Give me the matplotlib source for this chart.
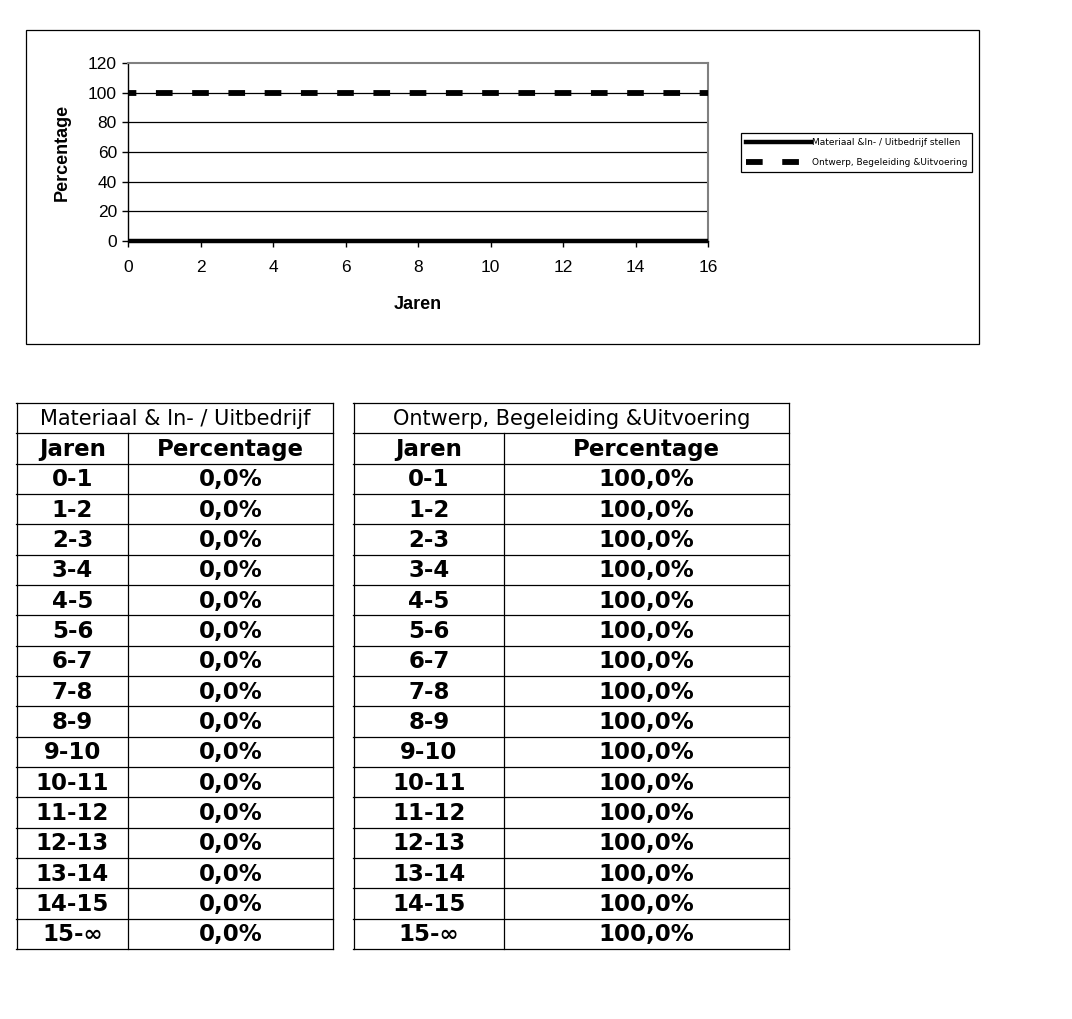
import matplotlib
matplotlib.use("Agg")
import matplotlib.pyplot as plt
from matplotlib.lines import Line2D

plt.rcParams['lines.scale_dashes'] = False

# ---- data ----
years = [0, 1, 2, 3, 4, 5, 6, 7, 8, 9, 10, 11, 12, 13, 14, 15, 16]
materiaal = [0, 0, 0, 0, 0, 0, 0, 0, 0, 0, 0, 0, 0, 0, 0, 0, 0]
ontwerp = [100, 100, 100, 100, 100, 100, 100, 100, 100, 100, 100, 100, 100, 100, 100, 100, 100]
series_names = ["Materiaal &In- / Uitbedrijf stellen", "Ontwerp, Begeleiding &Uitvoering"]
xticks = [0, 2, 4, 6, 8, 10, 12, 14, 16]
yticks = [0, 20, 40, 60, 80, 100, 120]

table_years = ["0-1", "1-2", "2-3", "3-4", "4-5", "5-6", "6-7", "7-8", "8-9", "9-10",
               "10-11", "11-12", "12-13", "13-14", "14-15", "15-\u221e"]
table_mat = ["0,0%"] * 16
table_ont = ["100,0%"] * 16
table_titles = ["Materiaal & In- / Uitbedrijf", "Ontwerp, Begeleiding &Uitvoering"]
table_headers = ["Jaren", "Percentage"]

W, H = 1072, 1019
fig = plt.figure(figsize=(W / 100, H / 100), dpi=100)
fig.patch.set_facecolor("white")

# background overlay axes in pixel coords
bg = fig.add_axes([0, 0, 1, 1])
bg.set_xlim(0, W)
bg.set_ylim(H, 0)
bg.axis("off")

# chart outer frame
bg.add_patch(plt.Rectangle((26, 30), 979 - 26, 344 - 30, fill=False, edgecolor="black", lw=0.9))

# chart axes
ax = fig.add_axes([128 / W, 1 - 241 / H, (708 - 128) / W, (241 - 63) / H])
ax.set_xlim(0, 16)
ax.set_ylim(0, 120)
ax.set_xticks(xticks)
ax.set_yticks(yticks)
for y in yticks[1:-1]:
    ax.axhline(y, color="black", lw=0.9, zorder=1)
ax.spines['top'].set_color("#808080")
ax.spines['right'].set_color("#808080")
ax.spines['top'].set_linewidth(1.5)
ax.spines['right'].set_linewidth(1.5)
ax.spines['left'].set_linewidth(1.0)
ax.spines['bottom'].set_linewidth(1.0)
ax.tick_params(direction="out", length=4, width=1, labelsize=12.5, pad=4)
for lbl in ax.get_xticklabels() + ax.get_yticklabels():
    lbl.set_fontfamily("Liberation Sans")
ax.tick_params(axis='x', pad=10)

on = 12.0
off = 26.1 - on
l1, = ax.plot(years, materiaal, color="black", lw=3.2, solid_capstyle="butt", clip_on=False, zorder=3,
              label=series_names[0])
l2, = ax.plot(years, ontwerp, color="black", lw=4.2, dash_capstyle="butt", clip_on=False, zorder=3,
              linestyle=(on / 2, (on, off)), label=series_names[1])

ax.set_ylabel("Percentage", fontsize=13, fontweight="bold", family="Liberation Sans", labelpad=12)
ax.set_xlabel("Jaren", fontsize=13, fontweight="bold", family="Liberation Sans", labelpad=15)

h1 = Line2D([0], [0], color="black", lw=3.2)
h2 = Line2D([0], [0], color="black", lw=4.2, dash_capstyle="butt", linestyle=(0, (on, off)))
leg = fig.legend([h1, h2], series_names, loc="upper left",
                 bbox_to_anchor=(741 / W, 1 - 133 / H), bbox_transform=fig.transFigure,
                 frameon=True, fancybox=False, edgecolor="black", framealpha=1,
                 prop={"family": "DejaVu Sans", "size": 6.5},
                 handlelength=7.2, handletextpad=0.1, borderpad=0.55, labelspacing=1.25,
                 borderaxespad=0)
leg.get_frame().set_linewidth(0.9)

# ---- tables ----
top = 403
rh = (949 - 403) / 18.0
tables = [
    dict(x0=17, xs=128, x1=333, title=table_titles[0], vals=table_mat),
    dict(x0=354, xs=504, x1=789, title=table_titles[1], vals=table_ont),
]
for t in tables:
    x0, xs, x1 = t["x0"], t["xs"], t["x1"]
    nrows = 2 + len(table_years)
    for i in range(nrows + 1):
        y = top + i * rh
        bg.plot([x0 - 1, x1], [y, y], color="black", lw=0.9)
    bg.plot([x0, x0], [top, top + nrows * rh], color="black", lw=0.9)
    bg.plot([x1, x1], [top, top + nrows * rh], color="black", lw=0.9)
    bg.plot([xs, xs], [top + rh, top + nrows * rh], color="black", lw=0.9)
    bg.text((x0 + x1) / 2, top + rh / 2 + 1, t["title"], ha="center", va="center",
            fontsize=15, family="DejaVu Sans")
    bg.text((x0 + xs) / 2, top + 1.5 * rh + 1, table_headers[0], ha="center", va="center",
            fontsize=16.5, fontweight="bold", family="DejaVu Sans")
    bg.text((xs + x1) / 2, top + 1.5 * rh + 1, table_headers[1], ha="center", va="center",
            fontsize=16.5, fontweight="bold", family="DejaVu Sans")
    for i, (yr, v) in enumerate(zip(table_years, t["vals"])):
        yc = top + (2.5 + i) * rh + 1
        bg.text((x0 + xs) / 2, yc, yr, ha="center", va="center",
                fontsize=16.5, fontweight="bold", family="DejaVu Sans")
        bg.text((xs + x1) / 2, yc, v, ha="center", va="center",
                fontsize=16.5, fontweight="bold", family="DejaVu Sans")

fig.savefig("out.png", dpi=100, facecolor="white")
